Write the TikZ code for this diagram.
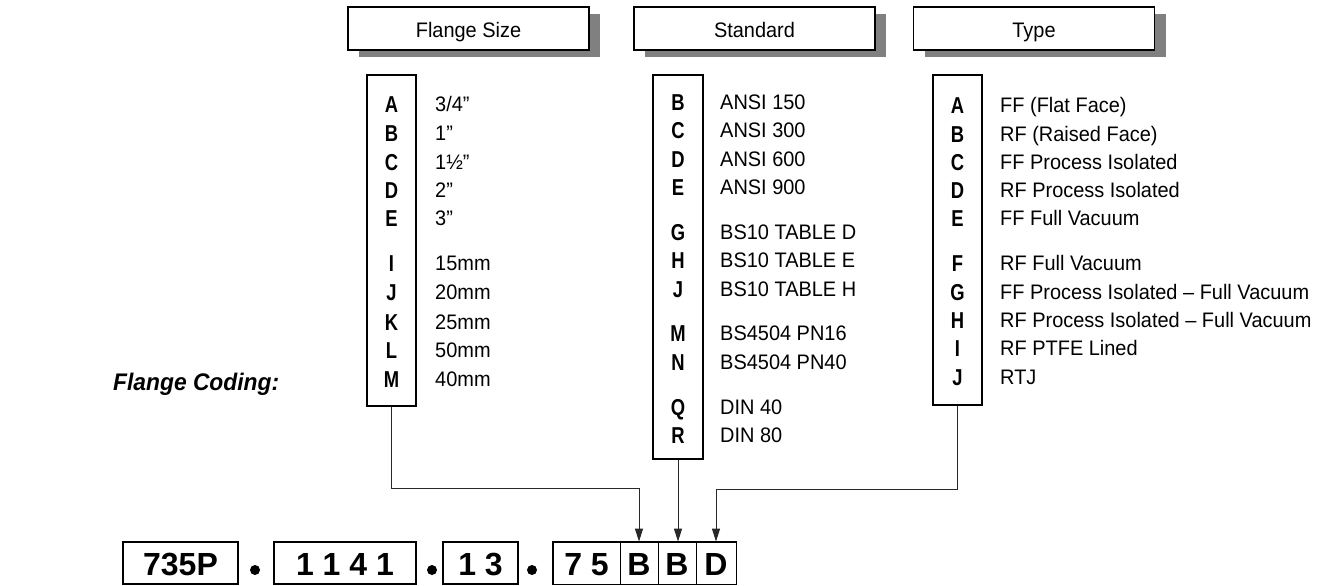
\documentclass[tikz,border=0pt]{standalone}
\usepackage{fontspec}
\setmainfont{Liberation Sans}
\newfontfamily\descfont[FakeStretch=0.95]{Liberation Sans}
\newfontfamily\keyfont[FakeStretch=0.8]{Liberation Sans}
\usetikzlibrary{arrows.meta,shadows}
\definecolor{shadowGray}{RGB}{128,128,128}
\definecolor{lineGray}{RGB}{40,40,40}
\tikzset{
  headbox/.style={draw, line width=1.5pt, fill=white, minimum width=241pt, minimum height=43pt, inner sep=0pt,
    text height=20pt, text depth=2pt,
    drop shadow={shadow xshift=11pt, shadow yshift=-7pt, fill=shadowGray, opacity=1},
    font=\fontsize{21}{25}\descfont},
  codecol/.style={draw, line width=2pt, minimum width=49pt, inner sep=0pt},
  letter/.style={anchor=base, inner sep=0pt, font=\fontsize{23}{27}\keyfont\bfseries},
  meaning/.style={anchor=base west, inner sep=0pt, font=\fontsize{21}{25}\descfont},
  codecell/.style={draw, line width=0.8pt, minimum height=42pt, inner sep=0pt,
    text height=26pt, text depth=2pt, font=\fontsize{32}{36}\selectfont\bfseries},
  solocell/.style={codecell, line width=1.8pt},
  sepdot/.style={circle, fill, inner sep=0pt, minimum size=10pt},
  conn/.style={lineGray, line width=1pt, -{Triangle[length=13pt,width=8pt]}}
}

\begin{document}
\begin{tikzpicture}[x=1pt,y=-1pt]
  \useasboundingbox (0,0) rectangle (1317,586);

  % headings
  \node[headbox] (sizehead) at (468.5,28.5) {Flange Size};
  \node[headbox] (stdhead) at (754.5,28.5) {Standard};
  \node[headbox] (typehead) at (1034,28.5) {Type};

  % code columns
  \node[codecol, minimum height=331pt] (sizecol) at (391.5,240.5) {};
  \node[codecol, minimum height=384pt, minimum width=50pt] (stdcol) at (678,267) {};
  \node[codecol, minimum height=330pt] (typecol) at (957.5,240) {};

  \foreach \lt/\desc/\yy in {A/{3/4”}/104, B/1”/133, C/1½”/162, D/2”/190, E/3”/218,
      I/15mm/263, J/20mm/292, K/25mm/322, L/50mm/350, M/40mm/379} {
    \node[letter] (size-\lt) at (391.5,\yy+8.5) {\lt};
    \node[meaning] (size-\lt-txt) at (435,\yy+7.5) {\desc};
  }

  \foreach \lt/\desc/\yy in {B/ANSI 150/102, C/ANSI 300/130, D/ANSI 600/159, E/ANSI 900/187,
      G/BS10 TABLE D/232, H/BS10 TABLE E/260, J/BS10 TABLE H/289,
      M/BS4504 PN16/333, N/BS4504 PN40/362, Q/DIN 40/407, R/DIN 80/435} {
    \node[letter] (std-\lt) at (678,\yy+8.5) {\lt};
    \node[meaning] (std-\lt-txt) at (720,\yy+7.5) {\desc};
  }

  \foreach \lt/\desc/\yy in {A/FF (Flat Face)/105, B/RF (Raised Face)/134, C/FF Process Isolated/162,
      D/RF Process Isolated/190, E/FF Full Vacuum/218, F/RF Full Vacuum/263,
      G/FF Process Isolated – Full Vacuum/292, H/RF Process Isolated – Full Vacuum/320,
      I/RF PTFE Lined/348, J/RTJ/377} {
    \node[letter] (type-\lt) at (957.5,\yy+8.5) {\lt};
    \node[meaning] (type-\lt-txt) at (1000,\yy+7.5) {\desc};
  }

  \node[anchor=west, inner sep=0pt, font=\fontsize{24}{28}\descfont\bfseries\itshape] (coding) at (113,384) {Flange Coding:};

  % model number
  \node[solocell, minimum width=115pt] (cell735) at (180.5,563) {735P};
  \node[sepdot] (dot1) at (255,570) {};
  \node[solocell, minimum width=142pt] (cell1141) at (345,563) {1 1 4 1};
  \node[sepdot] (dot2) at (432,570) {};
  \node[solocell, minimum width=75pt] (cell13) at (480.5,563) {1 3};
  \node[sepdot] (dot3) at (532,570) {};
  \node[codecell, minimum width=67pt] (cell75) at (586.5,563) {7 5};
  \node[codecell, minimum width=38pt] (cellB1) at (639,563) {B};
  \node[codecell, minimum width=38pt] (cellB2) at (677,563) {B};
  \node[codecell, minimum width=40pt] (cellD) at (716,563) {D};
  \draw[line width=1.8pt] (cell75.north west) rectangle (cellD.south east);

  % connectors
  \coordinate (sizebend) at (639,488);
  \coordinate (typebend) at (716,489);
  \draw[conn] (sizecol.south) |- (sizebend) -- (cellB1.north);
  \draw[conn] (stdcol.south) -- (stdcol.south |- cellB2.north);
  \draw[conn] (typecol.south) |- (typebend) -- (cellD.north);
\end{tikzpicture}
\end{document}
